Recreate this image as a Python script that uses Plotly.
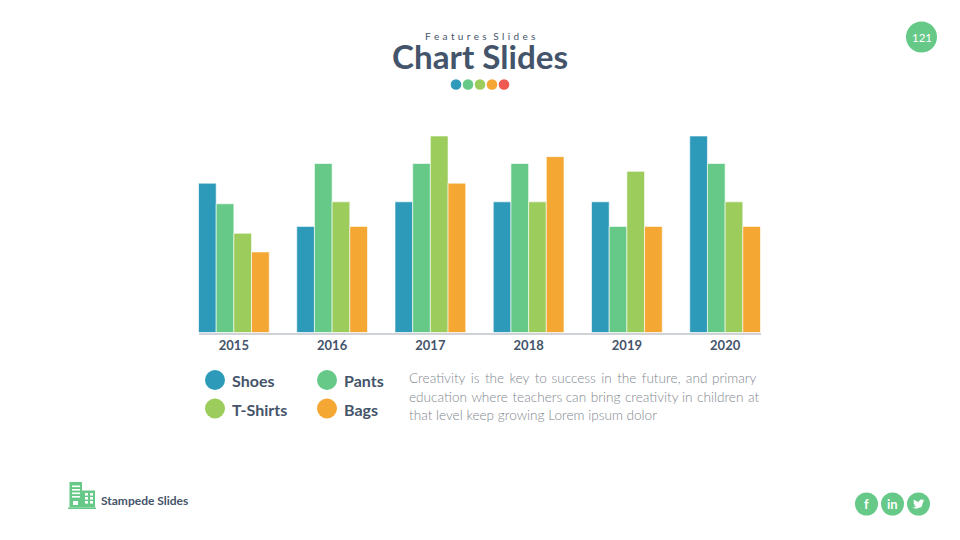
import plotly.graph_objects as go

YEARS = ["2015", "2016", "2017", "2018", "2019", "2020"]
SHOES = [76, 54, 66.5, 66.5, 66.5, 100]
PANTS = [65.5, 86, 86, 86, 54, 86]
TSHIRTS = [50.5, 66.5, 100, 66.5, 82, 66.5]
BAGS = [41, 54, 76, 89.5, 54, 54]

BLUE = "#2e9ab9"
GREEN = "#66c987"
LIME = "#9ccc5c"
ORANGE = "#f5a733"
RED = "#ee5a52"
INK = "#44546a"
W, H = 960, 540


def px(x):
    return x / W


def py(y):
    return 1 - y / H


def circle(cx, cy, r, color):
    return dict(type="circle", xref="paper", yref="paper", x0=px(cx - r), x1=px(cx + r),
                y0=py(cy + r), y1=py(cy - r), fillcolor=color, line_width=0, layer="above")


def rect(x0, y0, x1, y1, color):
    return dict(type="rect", xref="paper", yref="paper", x0=px(x0), x1=px(x1),
                y0=py(y1), y1=py(y0), fillcolor=color, line_width=0, layer="above")


def text(x, y, s, size, color=INK, anchor="left", family="Lato", weight=400):
    return dict(xref="paper", yref="paper", x=px(x), y=py(y), text=s, showarrow=False,
                xanchor=anchor, yanchor="middle", borderpad=0,
                font=dict(family=family, size=size, color=color, weight=weight))


fig = go.Figure()
for name, vals, col in [("Shoes", SHOES, BLUE), ("Pants", PANTS, GREEN),
                        ("T-Shirts", TSHIRTS, LIME), ("Bags", BAGS, ORANGE)]:
    fig.add_bar(x=YEARS, y=vals, name=name, marker=dict(color=col, line=dict(color="#ffffff", width=0.6)))

shapes = []
for i, c in enumerate([BLUE, GREEN, LIME, ORANGE, RED]):
    shapes.append(circle(456 + i * 12, 84.5, 5.3, c))
shapes.append(circle(921.5, 37, 15.5, GREEN))
for cx, cy, c in [(215, 380, BLUE), (327, 380, GREEN), (215, 408.5, LIME), (327, 408.5, ORANGE)]:
    shapes.append(circle(cx, cy, 10, c))
for cx in (866.5, 892.5, 918.5):
    shapes.append(circle(cx, 504, 11.5, GREEN))
# building logo
shapes += [
    rect(69.5, 482, 82, 507.5, GREEN),
    rect(82, 490.5, 95, 507.5, GREEN),
    rect(68, 507.5, 96, 509, GREEN),
]
for y in (485.5, 489, 492.5, 496):
    shapes.append(rect(72, y, 80, y + 1.6, "#ffffff"))
shapes.append(rect(73, 501, 78, 505, "#ffffff"))
for y in (493, 497, 501):
    for x in (85, 90):
        shapes.append(rect(x, y, x + 3, y + 2.6, "#ffffff"))
# twitter bird icon
BIRD = [(24, 4.6), (21.2, 5.4), (23.3, 2.8), (20.6, 3.9), (17, 2.4), (12.1, 7.2), (12.2, 8.3),
        (1.7, 3.1), (3.2, 9.7), (1, 9.1), (4.9, 14), (2.7, 14.1), (7.1, 17.4), (0, 19.4),
        (7.5, 21.6), (18, 18), (21.6, 7.2)]
path = "M" + " L".join(f"{px(918.5 + (a - 12) * 0.5):.5f},{py(504 + (b - 12) * 0.5):.5f}" for a, b in BIRD) + " Z"
shapes.append(dict(type="path", xref="paper", yref="paper", path=path, fillcolor="#ffffff",
                   line_width=0, layer="above"))


def spaced(line, gaps):
    words = line.split(" ")
    out = words[0]
    for i, w in enumerate(words[1:]):
        out += gaps[i % len(gaps)] + w
    return out


WIDE = "\u2004\u200a"
MID = "\u2004"
NARROW = "\u2005"
DESC = [spaced("Creativity is the key to success in the future, and primary", [WIDE, WIDE, WIDE, WIDE, MID]),
        spaced("education where teachers can bring creativity in children at", [MID, MID, NARROW]),
        "that level keep growing Lorem ipsum dolor"]
DESC_Y = [378, 396.5, 415]
anns = [
    text(480, 35.5, "\u2004".join("Features") + "\u2004\u2004" + "\u2004".join("Slides"), 10, anchor="center", weight=400),
    text(480, 56, "Chart Slides", 33.2, anchor="center", weight=700),
    text(921.5, 37, "121", 11.5, color="#ffffff", anchor="center"),
    text(231, 380.5, "Shoes", 16, weight=700),
    text(343, 380.5, "Pants", 16, weight=700),
    text(230.5, 409.5, "T-Shirts", 16, weight=700),
    text(343, 409.5, "Bags", 16, weight=700),
    text(100, 500.5, "Stampede Slides", 12, weight=700),
    text(866.5, 504, "f", 13, color="#ffffff", anchor="center", weight=700),
    text(892.5, 504, "in", 13, color="#ffffff", anchor="center", weight=700),
]
for line, y in zip(DESC, DESC_Y):
    anns.append(text(407.5, y, line, 13.6, color="#7f8790", weight=300))

fig.update_layout(
    width=W, height=H, margin=dict(l=0, r=0, t=0, b=0), paper_bgcolor="#ffffff", plot_bgcolor="#ffffff",
    barmode="group", bargap=0.28, bargroupgap=0, showlegend=False, shapes=shapes, annotations=anns,
    font=dict(family="Lato"),
    xaxis=dict(domain=[px(198.5), px(760.5)], range=[-0.36, 5.36], type="category", showline=True,
               linecolor="#cfd2d6", linewidth=1.5, showgrid=False, ticks="", ticklen=0,
               tickfont=dict(family="Lato", size=13, color=INK, weight=700), fixedrange=True),
    yaxis=dict(domain=[py(332.5), py(136)], range=[0, 100], visible=False, fixedrange=True),
)
fig.write_html("out.html", config={"displayModeBar": False},
               post_script="document.body.style.margin='0';document.documentElement.style.overflow='hidden';")
